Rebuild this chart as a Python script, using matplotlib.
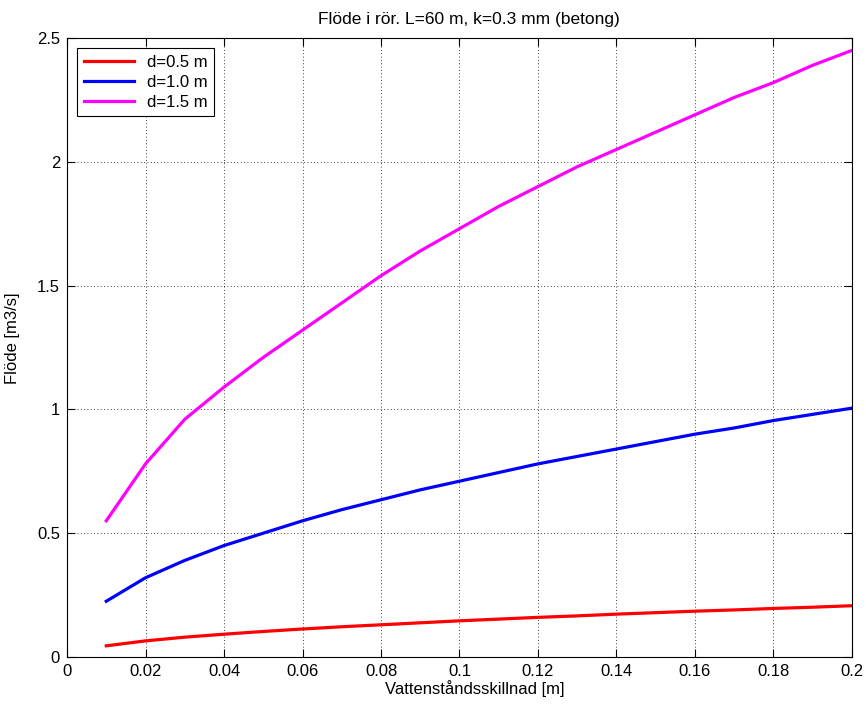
import matplotlib
matplotlib.use("Agg")
import matplotlib.pyplot as plt
import numpy as np

plt.rcParams['font.family'] = ['Liberation Sans', 'DejaVu Sans']
plt.rcParams['font.size'] = 12

dh = [0.01, 0.02, 0.03, 0.04, 0.05, 0.06, 0.07, 0.08, 0.09, 0.10,
      0.11, 0.12, 0.13, 0.14, 0.15, 0.16, 0.17, 0.18, 0.19, 0.20]
q05 = [0.045, 0.065, 0.080, 0.092, 0.103, 0.113, 0.122, 0.130, 0.138, 0.146,
       0.153, 0.160, 0.166, 0.173, 0.179, 0.185, 0.190, 0.196, 0.201, 0.207]
q10 = [0.225, 0.320, 0.390, 0.450, 0.500, 0.550, 0.595, 0.635, 0.675, 0.710,
       0.745, 0.780, 0.810, 0.840, 0.870, 0.900, 0.925, 0.955, 0.980, 1.005]
q15 = [0.550, 0.780, 0.960, 1.090, 1.210, 1.320, 1.430, 1.540, 1.640, 1.730,
       1.820, 1.900, 1.980, 2.050, 2.120, 2.190, 2.260, 2.320, 2.390, 2.450]
labels = ["d=0.5 m", "d=1.0 m", "d=1.5 m"]

fig = plt.figure(figsize=(8.66, 7.04), dpi=100)
ax = fig.add_axes([0.0774, 0.0668, 0.9064, 0.8792])

ax.plot(dh, q05, c="#ff0000", lw=2.3, label=labels[0])
ax.plot(dh, q10, c="#0000ff", lw=2.3, label=labels[1])
ax.plot(dh, q15, c="#ff00ff", lw=2.3, label=labels[2])

ax.set_xlim(0, 0.2)
ax.set_ylim(0, 2.5)
ax.set_xticks(np.arange(0, 0.21, 0.02))
ax.set_xticklabels(["0", "0.02", "0.04", "0.06", "0.08", "0.1",
                    "0.12", "0.14", "0.16", "0.18", "0.2"])
ax.set_yticks(np.arange(0, 2.6, 0.5))
ax.set_yticklabels(["0", "0.5", "1", "1.5", "2", "2.5"])
ax.tick_params(direction="in", top=True, right=True, length=6, width=0.8, pad=5)
ax.grid(True, ls=(0, (1, 3)), color="black", lw=0.6)
for s in ax.spines.values():
    s.set_linewidth(0.8)

ax.set_xlabel("Vattenståndsskillnad [m]")
ax.xaxis.set_label_coords(0.52, -0.037)
ax.set_ylabel("Flöde [m3/s]")
ax.yaxis.set_label_coords(-0.06, 0.515)
ax.set_title("Flöde i rör. L=60 m, k=0.3 mm (betong)", fontsize=12.5, pad=10, x=0.512)

leg = ax.legend(loc="upper left", fancybox=False, edgecolor="black",
                framealpha=1, borderpad=0.4, handlelength=3.0,
                labelspacing=0.3, borderaxespad=0.6)
leg.get_frame().set_linewidth(0.8)

fig.savefig("out.png", dpi=100)
